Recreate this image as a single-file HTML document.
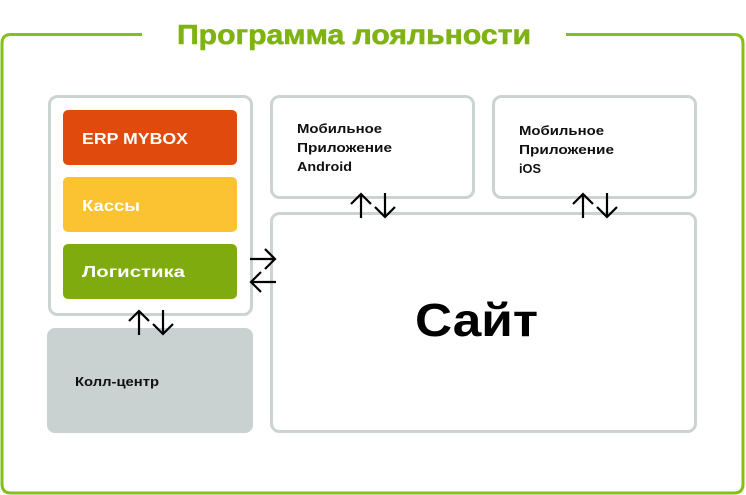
<!DOCTYPE html>
<html><head><meta charset="utf-8"><style>
html,body{margin:0;padding:0;background:#fff}
svg{display:block}
text{font-family:"Liberation Sans","DejaVu Sans",sans-serif;font-weight:bold}
</style></head><body>
<svg width="746" height="495" viewBox="0 0 746 495" xmlns="http://www.w3.org/2000/svg">
<path d="M142 34.5 H11 Q2 34.5 2 43.5 V484 Q2 493 11 493 H734 Q743 493 743 484 V43.5 Q743 34.5 734 34.5 H566" fill="none" stroke="#84c01a" stroke-width="3"/>
<text x="177" y="44" font-size="28" fill="#7fb314" stroke="#7fb314" stroke-width="0.6" textLength="354" lengthAdjust="spacingAndGlyphs">Программа лояльности</text>
<rect x="49.5" y="96.5" width="202" height="218" rx="8" fill="#fff" stroke="#cbd3d3" stroke-width="3"/>
<rect x="63" y="110" width="174" height="55" rx="5" fill="#e04a0c"/>
<rect x="63" y="177" width="174" height="55" rx="5" fill="#fbc232"/>
<rect x="63" y="244" width="174" height="55" rx="5" fill="#7fab0f"/>
<text x="82" y="144" font-size="16" fill="#fff" textLength="106" lengthAdjust="spacingAndGlyphs">ERP MYBOX</text>
<text x="82" y="211" font-size="16" fill="#fff" textLength="58" lengthAdjust="spacingAndGlyphs">Кассы</text>
<text x="82" y="277" font-size="16" fill="#fff" textLength="103" lengthAdjust="spacingAndGlyphs">Логистика</text>
<rect x="47" y="328" width="206" height="105" rx="8" fill="#c9d1d1"/>
<text x="75" y="386" font-size="13" fill="#111" textLength="84" lengthAdjust="spacingAndGlyphs">Колл-центр</text>
<rect x="271.5" y="96.5" width="202" height="101" rx="8" fill="#fff" stroke="#cbd3d3" stroke-width="3"/>
<text font-size="12.5" fill="#111"><tspan x="297" y="133" textLength="85" lengthAdjust="spacingAndGlyphs">Мобильное</tspan><tspan x="297" y="152" textLength="95" lengthAdjust="spacingAndGlyphs">Приложение</tspan><tspan x="297" y="171" textLength="55" lengthAdjust="spacingAndGlyphs">Android</tspan></text>
<rect x="493.5" y="96.5" width="202" height="101" rx="8" fill="#fff" stroke="#cbd3d3" stroke-width="3"/>
<text font-size="12.5" fill="#111"><tspan x="519" y="135" textLength="85" lengthAdjust="spacingAndGlyphs">Мобильное</tspan><tspan x="519" y="154" textLength="95" lengthAdjust="spacingAndGlyphs">Приложение</tspan><tspan x="519" y="173" textLength="22" lengthAdjust="spacingAndGlyphs">iOS</tspan></text>
<rect x="271.5" y="213.5" width="424" height="218" rx="8" fill="#fff" stroke="#cbd3d3" stroke-width="3"/>
<text x="415" y="336" font-size="46" fill="#000" textLength="123" lengthAdjust="spacingAndGlyphs">Сайт</text>
<g fill="none" stroke="#000" stroke-width="2.2">
  <path d="M361 218 V194 M351 204 L361 194 L371 204"/>
  <path d="M385 193 V217 M375 207 L385 217 L395 207"/>
  <path d="M583 218 V194 M573 204 L583 194 L593 204"/>
  <path d="M607 193 V217 M597 207 L607 217 L617 207"/>
  <path d="M250 259 H275 M265 249 L275 259 L265 269"/>
  <path d="M276 282 H251 M261 272 L251 282 L261 292"/>
  <path d="M139 335 V311 M129 321 L139 311 L149 321"/>
  <path d="M163 310 V334 M153 324 L163 334 L173 324"/>
</g>
</svg>
</body></html>
